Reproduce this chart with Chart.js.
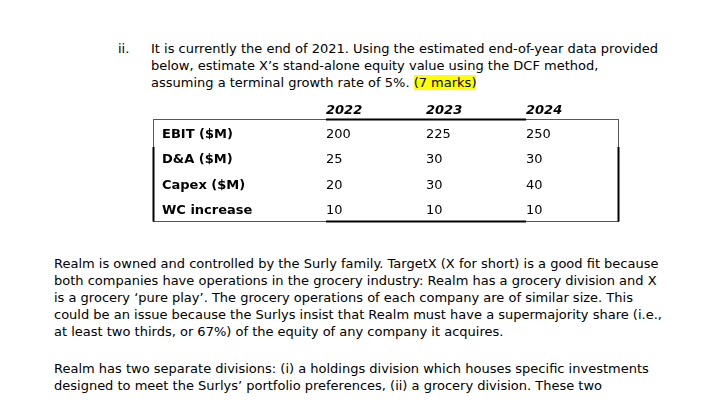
<!DOCTYPE html>
<html>
<head>
<meta charset="utf-8">
<script src="https://cdn.jsdelivr.net/npm/chart.js@4.4.0/dist/chart.umd.min.js"></script>
<style>
  html, body { margin: 0; padding: 0; background: #fff; }
  body { width: 705px; height: 419px; position: relative; overflow: hidden;
         font-family: "DejaVu Sans", sans-serif; font-size: 13px; color: #000; }
  .ln { position: absolute; white-space: pre; line-height: 17px; }
  .hl { background: #ffff00; }
  #wrap { position: absolute; left: 140px; top: 95px; width: 540px; height: 135px; }
</style>
</head>
<body>
<div class="ln" style="left:118px; top:40px;">ii.</div>
<div class="ln" style="left:151px; top:40px;">It is currently the end of 2021. Using the estimated end-of-year data provided
below, estimate X’s stand-alone equity value using the DCF method,
assuming a terminal growth rate of 5%. <span class="hl">(7 marks)</span></div>

<div id="wrap"><canvas id="chart"></canvas></div>

<div class="ln" style="left:54px; top:255px;">Realm is owned and controlled by the Surly family. TargetX (X for short) is a good fit because
both companies have operations in the grocery industry: Realm has a grocery division and X
is a grocery ‘pure play’. The grocery operations of each company are of similar size. This
could be an issue because the Surlys insist that Realm must have a supermajority share (i.e.,
at least two thirds, or 67%) of the equity of any company it acquires.</div>

<div class="ln" style="left:54px; top:360px;">Realm has two separate divisions: (i) a holdings division which houses specific investments
designed to meet the Surlys’ portfolio preferences, (ii) a grocery division. These two</div>

<script>
const years = ['2022', '2023', '2024'];
const rowLabels = ['EBIT ($M)', 'D&A ($M)', 'Capex ($M)', 'WC increase'];
const ebit = [200, 225, 250];
const da = [25, 30, 30];
const capex = [20, 30, 40];
const wcIncrease = [10, 10, 10];
const rowValues = [ebit, da, capex, wcIncrease];

const FONT = '"DejaVu Sans", sans-serif';

// draws the table box, header, row labels and cell values at the scale positions
const tablePlugin = {
    id: 'tableText',
    afterDatasetsDraw(chart) {
        const ctx = chart.ctx;
        const xs = chart.scales.x;
        const ys = chart.scales.y;
        const area = chart.chartArea;
        const boxL = 13.5, boxR = 478.5, boxT = 24.5, boxB = 126.5;
        const colFirst = xs.getPixelForValue(0);
        const colLast = xs.getPixelForValue(years.length - 1);
        const dy = 1.5;

        ctx.save();
        // thin grey box
        ctx.strokeStyle = '#555';
        ctx.lineWidth = 1;
        ctx.strokeRect(boxL, boxT, boxR - boxL, boxB - boxT);
        // heavier black segments
        ctx.strokeStyle = '#000';
        ctx.lineWidth = 2;
        ctx.beginPath();
        ctx.moveTo(colFirst, boxT); ctx.lineTo(colLast, boxT);
        ctx.moveTo(colFirst, boxB); ctx.lineTo(colLast, boxB);
        ctx.moveTo(boxL, 52); ctx.lineTo(boxL, boxB);
        ctx.moveTo(boxR, 52); ctx.lineTo(boxR, boxB);
        ctx.stroke();

        ctx.fillStyle = '#000';
        ctx.textBaseline = 'middle';
        ctx.textAlign = 'left';

        // header
        ctx.font = 'italic bold 13px ' + FONT;
        years.forEach((y, i) => {
            ctx.fillText(y, xs.getPixelForValue(i), area.top - 24 + dy);
        });

        // row labels
        ctx.font = 'bold 13px ' + FONT;
        rowLabels.forEach((lab, j) => {
            ctx.fillText(lab, boxL + 8.5, ys.getPixelForValue(j) + dy);
        });

        // values
        ctx.font = '13px ' + FONT;
        chart.data.datasets.forEach((ds, j) => {
            const meta = chart.getDatasetMeta(j);
            meta.data.forEach((pt, i) => {
                ctx.fillText(String(ds.values[i]), pt.x, pt.y + dy);
            });
        });
        ctx.restore();
    }
};

new Chart(document.getElementById('chart').getContext('2d'), {
    type: 'line',
    data: {
        labels: years,
        datasets: rowLabels.map((lab, j) => ({
            label: lab,
            values: rowValues[j],
            data: years.map((y) => lab),
            showLine: false,
            pointRadius: 0
        }))
    },
    options: {
        responsive: true,
        maintainAspectRatio: false,
        animation: false,
        layout: { padding: { left: 186, right: 154, top: 38, bottom: 21 } },
        scales: {
            x: { type: 'category', labels: years, offset: false, display: false },
            y: { type: 'category', labels: rowLabels, offset: false, display: false }
        },
        plugins: { legend: { display: false }, tooltip: { enabled: false } }
    },
    plugins: [tablePlugin]
});
</script>
</body>
</html>
